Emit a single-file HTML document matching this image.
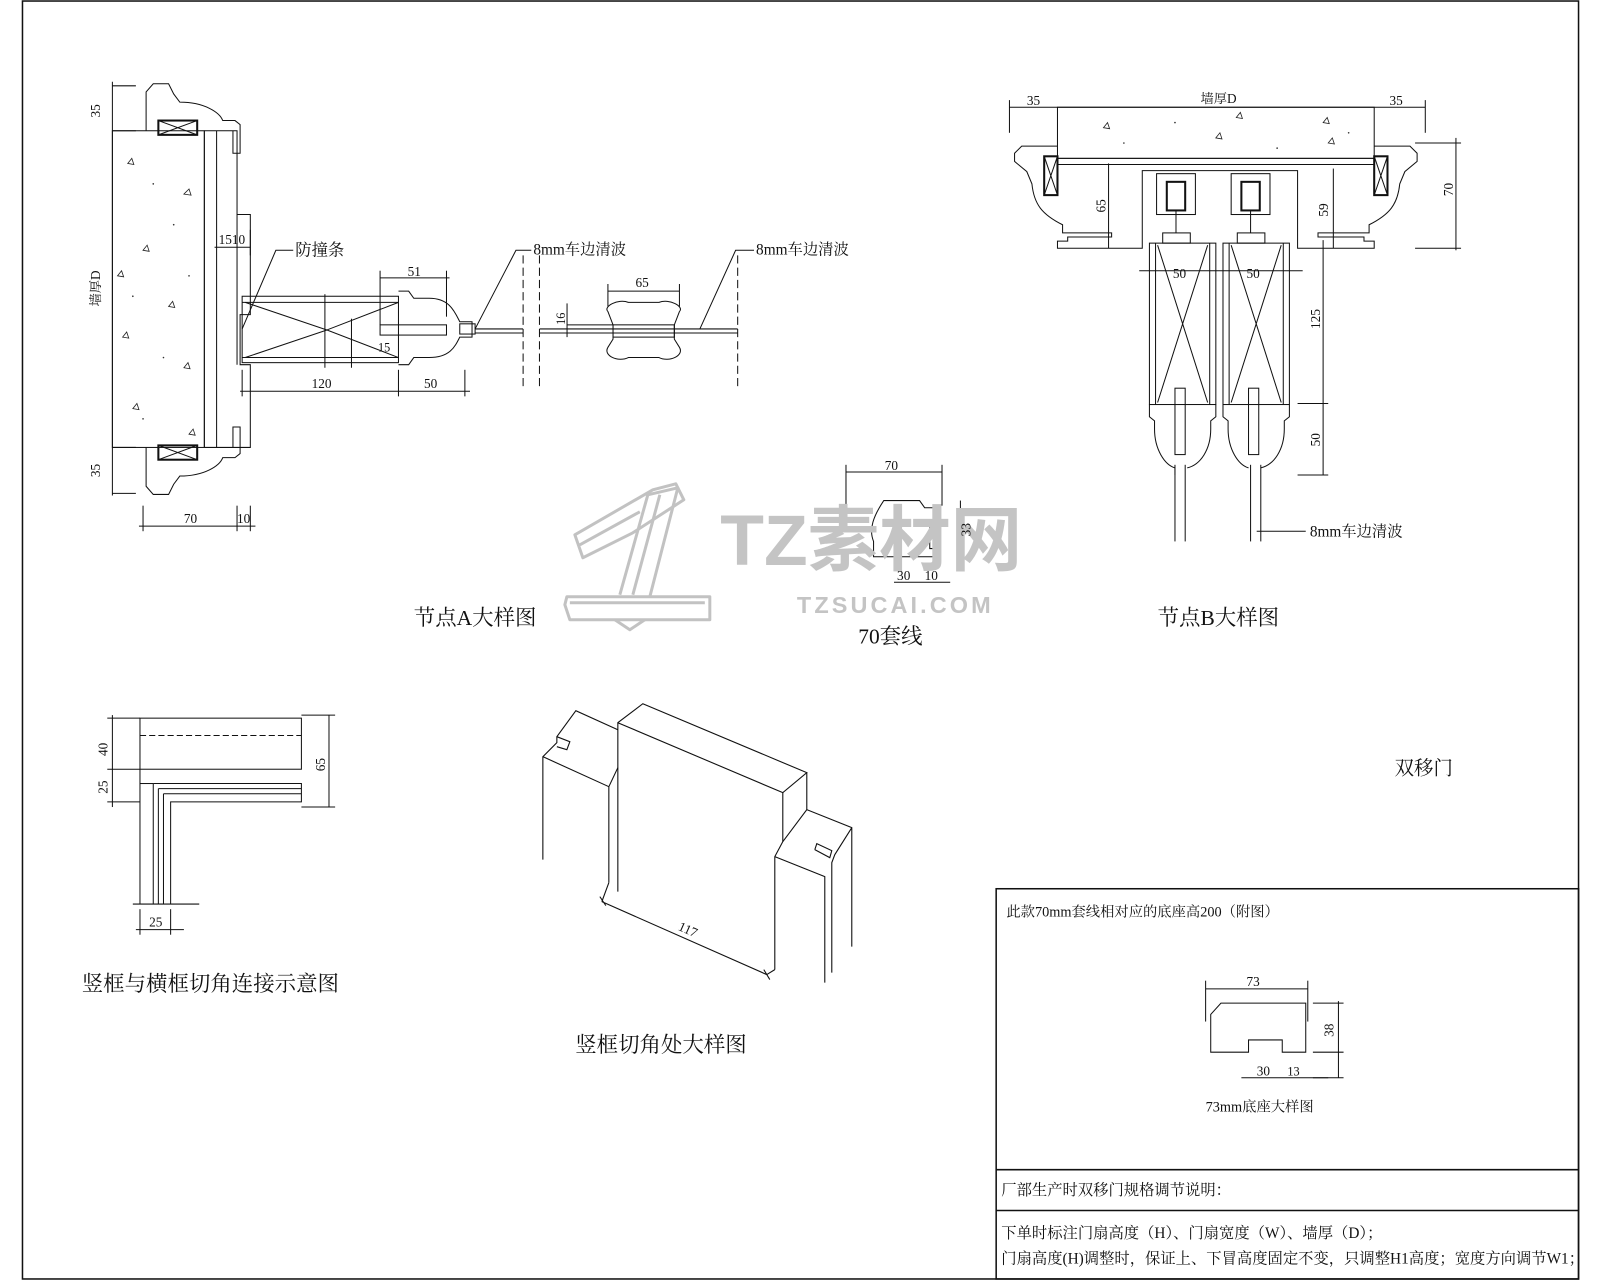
<!DOCTYPE html>
<html><head><meta charset="utf-8"><style>
html,body{margin:0;padding:0;background:#fff;}
svg{display:block;}
text{font-family:"Liberation Serif","Noto Serif CJK SC","Noto Sans CJK SC",serif;fill:#111;}
.t{font-size:13px;}
</style></head><body>
<svg width="1600" height="1280" viewBox="0 0 1566 1253" preserveAspectRatio="none" xmlns="http://www.w3.org/2000/svg">
<g fill="none" stroke="#111" stroke-width="1">
<!-- border -->
<rect x="22" y="1" width="1523" height="1251" stroke-width="1.5"/>
<!-- bottom-right table -->
<rect x="975" y="870" width="570" height="382" stroke-width="1.5"/>
<line x1="975" y1="1145" x2="1545" y2="1145" stroke-width="1.5"/>
<line x1="975" y1="1185" x2="1545" y2="1185" stroke-width="1.5"/>

<!-- ===== Node A ===== -->
<rect x="110" y="128" width="90" height="310"/>
<line x1="200" y1="128" x2="200" y2="438"/>
<line x1="212" y1="128" x2="212" y2="438"/>
<polyline points="200,128 232,128 232,210 245,210 245,308 235,308 235,357 245,357 245,367 245,438 200,438"/>
<line x1="232" y1="210" x2="232" y2="357"/>
<!-- top molding -->
<path d="M143,128 V90 L150,82 H165 L170,92 L176,100 C200,100 215,110 218,118 H230 L235,122 V150 H228 V128"/>
<rect x="155" y="118" width="38" height="14" stroke-width="2"/>
<path d="M155,118 L193,132 M193,118 L155,132"/>
<!-- bottom molding -->
<path d="M143,438 V476 L150,484 H165 L170,474 L176,466 C200,466 215,456 218,448 H230 L235,444 V418 H228 V438"/>
<rect x="155" y="436" width="38" height="14" stroke-width="2"/>
<path d="M155,436 L193,450 M193,436 L155,450"/>
<!-- dims left -->
<line x1="110" y1="80" x2="110" y2="485"/>
<line x1="110" y1="84" x2="133" y2="84"/><line x1="110" y1="128" x2="133" y2="128"/>
<line x1="110" y1="438" x2="133" y2="438"/><line x1="110" y1="483" x2="133" y2="483"/>
<line x1="140" y1="495" x2="140" y2="520"/><line x1="232" y1="495" x2="232" y2="520"/><line x1="245" y1="495" x2="245" y2="520"/>
<line x1="136" y1="515" x2="250" y2="515"/>
<line x1="210" y1="242" x2="245" y2="242"/><line x1="245" y1="225" x2="245" y2="250"/>
<!-- door panel -->
<rect x="237" y="290" width="153" height="65"/>
<line x1="237" y1="296" x2="390" y2="296"/><line x1="237" y1="350" x2="390" y2="350"/>
<path d="M240,296 L320,323 L240,350 M390,296 L320,323 L390,350"/>
<line x1="318" y1="288" x2="318" y2="360"/><line x1="344" y1="312" x2="344" y2="360"/>
<rect x="372" y="318" width="65" height="10"/>
<path d="M390,285 H400 L405,292 H420 C440,292 445,305 450,315 H462 V330 H450 C445,340 440,350 420,350 H405 L400,357 H390"/>
<rect x="450" y="317" width="15" height="10"/>
<line x1="465" y1="322" x2="512" y2="322"/>
<line x1="465" y1="326" x2="512" y2="326"/>
<!-- dims A -->
<line x1="235" y1="383" x2="460" y2="383"/>
<line x1="237" y1="362" x2="237" y2="388"/><line x1="390" y1="362" x2="390" y2="388"/><line x1="455" y1="362" x2="455" y2="388"/>
<line x1="372" y1="272" x2="440" y2="272"/><line x1="372" y1="265" x2="372" y2="318"/><line x1="437" y1="265" x2="437" y2="310"/>
<polyline points="237,322 270,245 287,245"/>
<polyline points="465,322 505,245 520,245"/>
<polyline points="685,322 720,245 738,245"/>
<line x1="512" y1="250" x2="512" y2="380" stroke-dasharray="8,4"/>
<line x1="528" y1="250" x2="528" y2="380" stroke-dasharray="8,4"/>
<line x1="722" y1="250" x2="722" y2="380" stroke-dasharray="8,4"/>
<line x1="528" y1="322" x2="722" y2="322"/><line x1="528" y1="326" x2="722" y2="326"/>
<path d="M595,305 C590,300 605,292 615,296 H645 C655,292 670,300 665,305 L660,318 V332 L665,340 C670,348 655,355 645,350 H615 C605,355 590,348 595,340 L600,332 V318 Z"/>
<rect x="600" y="318" width="60" height="12"/>
<line x1="595" y1="285" x2="665" y2="285"/><line x1="595" y1="278" x2="595" y2="300"/><line x1="665" y1="278" x2="665" y2="300"/>
<line x1="555" y1="318" x2="600" y2="318"/><line x1="555" y1="297" x2="555" y2="330"/>

<!-- ===== Node B ===== -->
<rect x="1035" y="105" width="310" height="50"/>
<line x1="988" y1="105" x2="1395" y2="105"/>
<line x1="988" y1="98" x2="988" y2="130"/><line x1="1395" y1="98" x2="1395" y2="130"/>
<line x1="1035" y1="155" x2="1345" y2="155"/><line x1="1035" y1="161" x2="1345" y2="161"/>
<path d="M1035,143 H1000 L993,150 V158 L1005,168 L1010,180 C1012,200 1020,210 1040,220 V228 H1088 V232 H1045 V236 H1035 V243 H1118 V167 H1270 V243 H1345 V236 H1335 V232 H1290 V228 H1340 V220 C1360,210 1368,200 1370,180 L1375,168 L1387,158 V150 L1380,143 H1345"/>
<rect x="1022" y="153" width="13" height="38" stroke-width="2"/><path d="M1022,153 L1035,191 M1035,153 L1022,191"/>
<rect x="1345" y="153" width="13" height="38" stroke-width="2"/><path d="M1345,153 L1358,191 M1358,153 L1345,191"/>
<rect x="1132" y="170" width="38" height="40"/><rect x="1142" y="178" width="18" height="28" stroke-width="2"/>
<rect x="1205" y="170" width="38" height="40"/><rect x="1215" y="178" width="18" height="28" stroke-width="2"/>
<line x1="1151" y1="206" x2="1151" y2="228"/><line x1="1224" y1="206" x2="1224" y2="228"/>
<rect x="1138" y="228" width="27" height="10"/><rect x="1211" y="228" width="27" height="10"/>
<rect x="1125" y="238" width="65" height="158"/><rect x="1197" y="238" width="65" height="158"/>
<line x1="1131" y1="238" x2="1131" y2="396"/><line x1="1184" y1="238" x2="1184" y2="396"/>
<line x1="1203" y1="238" x2="1203" y2="396"/><line x1="1256" y1="238" x2="1256" y2="396"/>
<path d="M1133,240 L1182,394 M1182,240 L1133,394 M1205,240 L1254,394 M1254,240 L1205,394"/>
<rect x="1150" y="380" width="10" height="65"/><rect x="1222" y="380" width="10" height="65"/>
<path d="M1125,396 V408 L1130,412 V420 C1130,440 1140,455 1150,458 V465 M1190,396 V408 L1185,412 V420 C1185,440 1175,455 1162,458"/>
<path d="M1197,396 V408 L1202,412 V420 C1202,440 1212,455 1222,458 M1262,396 V408 L1257,412 V420 C1257,440 1247,455 1234,458"/>
<line x1="1150" y1="455" x2="1150" y2="530"/><line x1="1160" y1="455" x2="1160" y2="530"/>
<line x1="1224" y1="455" x2="1224" y2="530"/><line x1="1234" y1="455" x2="1234" y2="530"/>
<line x1="1115" y1="265" x2="1275" y2="265"/>
<line x1="1295" y1="235" x2="1295" y2="465"/>
<line x1="1270" y1="395" x2="1300" y2="395"/><line x1="1270" y1="465" x2="1300" y2="465"/>
<line x1="1085" y1="160" x2="1085" y2="243"/>
<line x1="1305" y1="165" x2="1305" y2="243"/>
<line x1="1385" y1="140" x2="1430" y2="140"/><line x1="1425" y1="135" x2="1425" y2="245"/><line x1="1385" y1="243" x2="1430" y2="243"/>
<line x1="1230" y1="520" x2="1278" y2="520"/>

<!-- ===== 70 套线 ===== -->
<line x1="828" y1="462" x2="922" y2="462"/>
<line x1="828" y1="455" x2="828" y2="495"/><line x1="922" y1="455" x2="922" y2="495"/>
<path d="M865,490 H900 L905,497 H918 V512 H910 V537 H920 V545 H855 V530 C850,518 855,505 865,490 Z"/>
<line x1="940" y1="490" x2="940" y2="540"/>
<line x1="875" y1="570" x2="930" y2="570"/>

<!-- ===== 竖框与横框 ===== -->
<rect x="137" y="703" width="158" height="50"/>
<line x1="137" y1="720" x2="295" y2="720" stroke-dasharray="6,3"/>
<polyline points="137,753 137,885"/>
<path d="M150,767 H295 V785 H167 V885 M155,772 H295 M160,777 H295"/>
<line x1="150" y1="767" x2="150" y2="885"/><line x1="155" y1="772" x2="155" y2="885"/><line x1="160" y1="777" x2="160" y2="885"/>
<line x1="137" y1="767" x2="150" y2="767"/>
<line x1="110" y1="700" x2="110" y2="790"/>
<line x1="105" y1="703" x2="137" y2="703"/><line x1="105" y1="753" x2="137" y2="753"/><line x1="105" y1="785" x2="137" y2="785"/>
<line x1="322" y1="700" x2="322" y2="790"/><line x1="295" y1="700" x2="328" y2="700"/><line x1="295" y1="790" x2="328" y2="790"/>
<line x1="130" y1="885" x2="195" y2="885"/>
<line x1="133" y1="910" x2="180" y2="910"/><line x1="137" y1="890" x2="137" y2="915"/><line x1="167" y1="890" x2="167" y2="915"/>

<!-- 73 profile -->
<line x1="1180" y1="968" x2="1280" y2="968"/>
<line x1="1180" y1="960" x2="1180" y2="1000"/><line x1="1280" y1="960" x2="1280" y2="1000"/>
<path d="M1195,982 H1278 V1030 H1255 V1018 H1222 V1030 H1185 V993 Z"/>
<line x1="1310" y1="980" x2="1310" y2="1055"/>
<line x1="1285" y1="982" x2="1315" y2="982"/><line x1="1285" y1="1030" x2="1315" y2="1030"/><line x1="1285" y1="1055" x2="1315" y2="1055"/>
<line x1="1215" y1="1055" x2="1300" y2="1055"/>
</g>

<!-- isometric (actual-pixel coordinates) -->
<g transform="scale(0.9785)" fill="none" stroke="#111" stroke-width="1.1">
<path d="M543,860 V757 L557,743 V737 L576,711 L618,730"/>
<path d="M557,737 L570,742 L567,750 L557,747"/>
<path d="M543,757 L609,787 V883 M609,787 L618,768"/>
<path d="M618,892 V723 L643,704 L807,773 L783,793 L618,723"/>
<path d="M807,773 V810 M783,793 V842"/>
<path d="M783,842 L807,810 L852,828 V947 M775,970 V857 L783,842 M775,857 L825,877 V983 M832,973 V863 L835,855 L852,828"/>
<path d="M815,850 L817,844 L832,851 L830,858 L815,850"/>
<path d="M602,902 L767,975 M600,897 L606,906 M764,970 L770,980 M609,883 L602,902 M775,970 L767,975"/>
</g>

<!-- concrete hatches -->
<g fill="none" stroke="#222" stroke-width="0.8">
<path d="M125,160 l4,-5 l2,6z M180,190 l5,-5 l2,6z M140,245 l4,-5 l2,6z M165,300 l4,-5 l2,6z M120,330 l4,-5 l2,6z M180,360 l4,-5 l2,6z M130,400 l4,-5 l2,6z M185,425 l4,-5 l2,6z M115,270 l4,-5 l2,6z"/>
<path d="M1080,125 l4,-5 l2,6z M1210,115 l4,-5 l2,6z M1295,120 l4,-5 l2,6z M1300,140 l4,-5 l2,6z M1190,135 l4,-5 l2,6z"/>
</g>
<g fill="#333">
<circle cx="150" cy="180" r="0.8"/><circle cx="170" cy="220" r="0.8"/><circle cx="130" cy="290" r="0.8"/><circle cx="160" cy="350" r="0.8"/><circle cx="140" cy="410" r="0.8"/><circle cx="185" cy="270" r="0.8"/>
<circle cx="1100" cy="140" r="0.8"/><circle cx="1150" cy="120" r="0.8"/><circle cx="1250" cy="145" r="0.8"/><circle cx="1320" cy="130" r="0.8"/>
</g>

<!-- watermark logo (actual coords) -->
<g transform="scale(0.9785)" fill="none" stroke="#c2c2c2" stroke-width="3" stroke-linejoin="round">
<path d="M567,597 H710 V620 H570 L565,605 Z M570,603 H705"/>
<path d="M620,595 L648,495 L678,488 L650,597"/>
<path d="M633,595 L660,495"/>
<path d="M575,535 L653,490 L676,484 L684,500 L633,533 L583,558 Z M580,545 L640,512"/>
<path d="M615,620 L630,630 L645,620"/>
</g>
<text x="705" y="553" style="font-family:'Liberation Sans','Noto Sans CJK SC',sans-serif;font-size:70px;font-weight:bold;fill:#c4c4c4">TZ素材网</text>
<text x="780" y="600" style="font-family:'Liberation Sans',sans-serif;font-size:23px;font-weight:bold;fill:#c4c4c4;letter-spacing:3px">TZSUCAI.COM</text>

<!-- texts -->
<g class="t">
<text x="98" y="115" transform="rotate(-90 98 115)" font-size="13">35</text>
<text x="98" y="467" transform="rotate(-90 98 467)" font-size="13">35</text>
<text x="98" y="300" transform="rotate(-90 98 300)" font-size="13">墙厚D</text>
<text x="180" y="512" font-size="13">70</text>
<text x="232" y="512" font-size="13">10</text>
<text x="214" y="239" font-size="13">1510</text>
<text x="289" y="250" font-size="16">防撞条</text>
<text x="399" y="270" font-size="13">51</text>
<text x="305" y="380" font-size="13">120</text>
<text x="415" y="380" font-size="13">50</text>
<text x="370" y="344" font-size="12">15</text>
<text x="522" y="249" font-size="15">8mm车边清波</text>
<text x="740" y="249" font-size="15">8mm车边清波</text>
<text x="622" y="281" font-size="13">65</text>
<text x="553" y="318" transform="rotate(-90 553 318)" font-size="12">16</text>
<text x="1005" y="103" font-size="13">35</text>
<text x="1360" y="103" font-size="13">35</text>
<text x="1175" y="101" font-size="13">墙厚D</text>
<text x="1082" y="208" transform="rotate(-90 1082 208)" font-size="13">65</text>
<text x="1300" y="212" transform="rotate(-90 1300 212)" font-size="13">59</text>
<text x="1422" y="192" transform="rotate(-90 1422 192)" font-size="13">70</text>
<text x="1148" y="272" font-size="13">50</text>
<text x="1220" y="272" font-size="13">50</text>
<text x="1292" y="322" transform="rotate(-90 1292 322)" font-size="13">125</text>
<text x="1292" y="437" transform="rotate(-90 1292 437)" font-size="13">50</text>
<text x="1282" y="525" font-size="15">8mm车边清波</text>
<text x="866" y="460" font-size="13">70</text>
<text x="878" y="568" font-size="13">30</text>
<text x="905" y="568" font-size="13">10</text>
<text x="950" y="525" transform="rotate(-90 950 525)" font-size="13">33</text>
<text x="405" y="612" font-size="21">节点A大样图</text>
<text x="840" y="630" font-size="21">70套线</text>
<text x="1133" y="612" font-size="21">节点B大样图</text>
<text x="1365" y="758" font-size="19">双移门</text>
<text x="105" y="740" transform="rotate(-90 105 740)" font-size="13">40</text>
<text x="105" y="777" transform="rotate(-90 105 777)" font-size="13">25</text>
<text x="318" y="755" transform="rotate(-90 318 755)" font-size="13">65</text>
<text x="146" y="907" font-size="13">25</text>
<text x="663" y="910" transform="rotate(24 663 910)" font-size="13">117</text>
<text x="80" y="970" font-size="21">竖框与横框切角连接示意图</text>
<text x="563" y="1030" font-size="21">竖框切角处大样图</text>
<text x="985" y="897" font-size="14">此款70mm套线相对应的底座高200（附图）</text>
<text x="1220" y="965" font-size="13">73</text>
<text x="1230" y="1053" font-size="13">30</text>
<text x="1260" y="1053" font-size="12">13</text>
<text x="1305" y="1015" transform="rotate(-90 1305 1015)" font-size="13">38</text>
<text x="1180" y="1088" font-size="14">73mm底座大样图</text>
<text x="980" y="1170" font-size="15">厂部生产时双移门规格调节说明：</text>
<text x="980" y="1212" font-size="15">下单时标注门扇高度（H）、门扇宽度（W）、墙厚（D）；</text>
<text x="980" y="1237" font-size="15">门扇高度(H)调整时，保证上、下冒高度固定不变，只调整H1高度；宽度方向调节W1；</text>
</g>
</svg>
</body></html>
